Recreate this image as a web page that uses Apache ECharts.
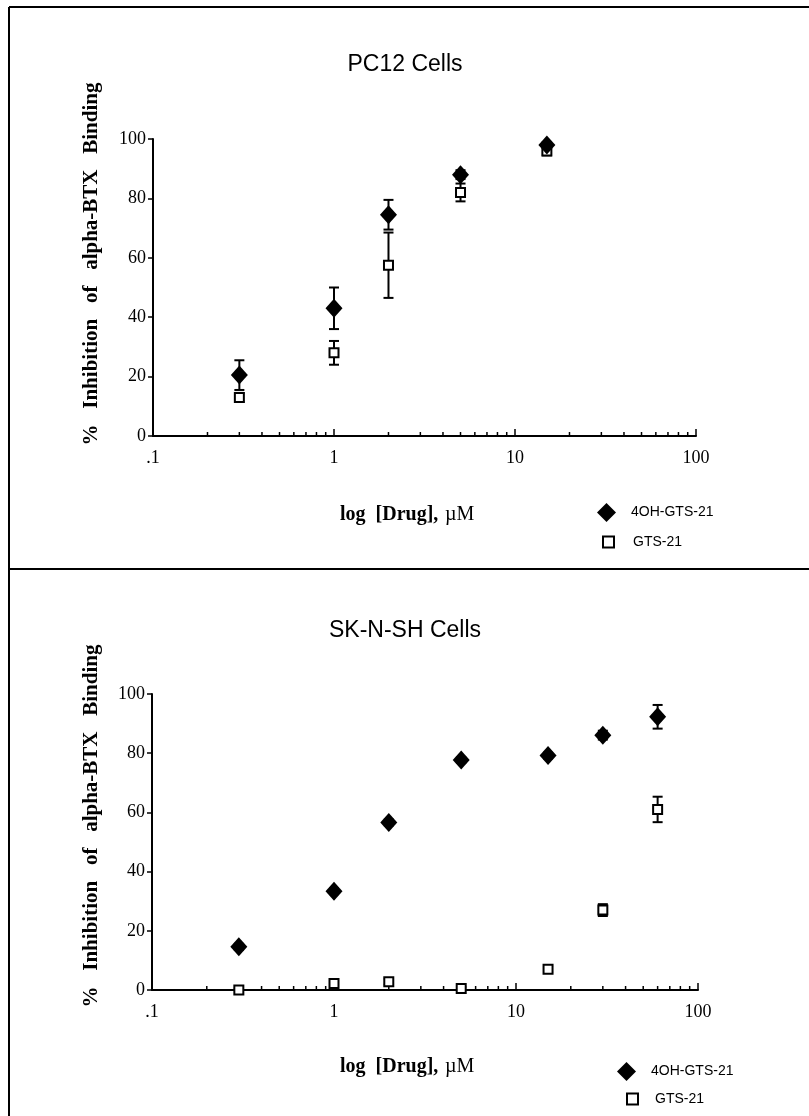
<!DOCTYPE html>
<html>
<head>
<meta charset="utf-8">
<script src="https://cdn.jsdelivr.net/npm/echarts@6/dist/echarts.min.js"></script>
<style>
  html, body { margin: 0; padding: 0; background: #fff; }
  #chart { width: 809px; height: 1116px; }
</style>
</head>
<body>
<div id="chart"></div>
<script>
// PC12 cells - dose (uM), % inhibition, error
var pcDose = [0.3, 1, 2, 5, 15];
var pcOh = [20.5, 43, 74.5, 88, 98];
var pcOhErr = [5, 7, 5, 1.5, 1];
var pcGts = [13, 28, 57.5, 82, 96];
var pcGtsErr = [1.5, 4, 11, 3, 1.5];

// SK-N-SH cells
var skDose = [0.3, 1, 2, 5, 15, 30, 60];
var skOh = [14.6, 33.4, 56.6, 77.7, 79.2, 86.1, 92.3];
var skOhErr = [1, 1, 1, 1, 1, 1.5, 4];
var skGts = [0, 2.2, 2.8, 0.5, 7, 27, 61];
var skGtsErr = [0.5, 1, 1, 0.5, 1, 2, 4.3];

// minor log ticks on the x axis
var minorTicks = [0.2, 0.3, 0.4, 0.5, 0.6, 0.7, 0.8, 0.9,
                  2, 3, 4, 5, 6, 7, 8, 9,
                  20, 30, 40, 50, 60, 70, 80, 90];

var SERIF = '"Liberation Serif", "DejaVu Serif", serif';
var SANS = '"Liberation Sans", Arial, sans-serif';

var chart = echarts.init(document.getElementById('chart'));

function pts(xs, ys) {
  return xs.map(function (x, i) { return [x, ys[i]]; });
}
function errs(xs, ys, es) {
  return xs.map(function (x, i) { return [x, Math.max(0, ys[i] - es[i]), ys[i] + es[i]]; });
}

// vertical error bar with caps
function errorBar(params, api) {
  var x = api.value(0);
  var top = api.coord([x, api.value(2)]);
  var bot = api.coord([x, api.value(1)]);
  var w = 5;
  var st = { stroke: '#000', lineWidth: 2 };
  return {
    type: 'group',
    children: [
      { type: 'line', shape: { x1: top[0], y1: top[1], x2: bot[0], y2: bot[1] }, style: st },
      { type: 'line', shape: { x1: top[0] - w, y1: top[1], x2: top[0] + w, y2: top[1] }, style: st },
      { type: 'line', shape: { x1: bot[0] - w, y1: bot[1], x2: bot[0] + w, y2: bot[1] }, style: st }
    ]
  };
}

function minorTick(params, api) {
  var p = api.coord([api.value(0), 0]);
  return {
    type: 'line',
    shape: { x1: p[0], y1: p[1], x2: p[0], y2: p[1] - 4 },
    style: { stroke: '#000', lineWidth: 1.5 }
  };
}

function xAxisOpt(idx) {
  return {
    type: 'log', logBase: 10, gridIndex: idx, min: 0.1, max: 100,
    axisLine: { lineStyle: { color: '#000', width: 2 } },
    axisTick: { inside: true, length: 7, lineStyle: { color: '#000', width: 1.5 } },
    splitLine: { show: false },
    axisLabel: {
      margin: 13, color: '#000', fontSize: 18, fontFamily: SERIF,
      formatter: function (v) {
        var e = Math.round(Math.log10(v));
        return e < 0 ? '.1' : String(Math.pow(10, e));
      }
    }
  };
}
function yAxisOpt(idx) {
  return {
    type: 'value', gridIndex: idx, min: 0, max: 100, interval: 20,
    axisLine: { show: true, lineStyle: { color: '#000', width: 2 } },
    axisTick: { show: true, length: 5, lineStyle: { color: '#000', width: 1.5 } },
    splitLine: { show: false },
    axisLabel: { margin: 7, color: '#000', fontSize: 18, fontFamily: SERIF }
  };
}

function seriesFor(idx, dose, oh, ohErr, gts, gtsErr) {
  return [
    { type: 'custom', xAxisIndex: idx, yAxisIndex: idx, renderItem: minorTick,
      data: minorTicks.map(function (t) { return [t]; }), silent: true, z: 1 },
    { type: 'custom', xAxisIndex: idx, yAxisIndex: idx, renderItem: errorBar,
      data: errs(dose, oh, ohErr), silent: true, z: 2 },
    { type: 'custom', xAxisIndex: idx, yAxisIndex: idx, renderItem: errorBar,
      data: errs(dose, gts, gtsErr), silent: true, z: 2 },
    { name: 'GTS-21', type: 'scatter', xAxisIndex: idx, yAxisIndex: idx,
      symbol: 'rect', symbolSize: 9,
      itemStyle: { color: '#fff', borderColor: '#000', borderWidth: 2, opacity: 1 },
      data: pts(dose, gts), z: 3 },
    { name: '4OH-GTS-21', type: 'scatter', xAxisIndex: idx, yAxisIndex: idx,
      symbol: 'diamond', symbolSize: [17, 19],
      itemStyle: { color: '#000', opacity: 1 },
      data: pts(dose, oh), z: 4 }
  ];
}

function legendOpt(name, icon, left, top, size, pad, style) {
  return {
    left: left, top: top, orient: 'vertical',
    itemWidth: size, itemHeight: size, selectedMode: false,
    textStyle: { fontSize: 14, fontFamily: SANS, color: '#000', padding: [0, 0, 0, pad] },
    data: [{ name: name, icon: icon, itemStyle: style }]
  };
}

var diamondStyle = { color: '#000', opacity: 1 };
var squareStyle = { color: '#fff', borderColor: '#000', borderWidth: 2, opacity: 1 };

var yLabel = '%   Inhibition   of   alpha-BTX   Binding';
var labelFont = 'bold 21px ' + SERIF;

function axisName(y) {
  return {
    type: 'text', x: 340, y: y,
    style: {
      text: '{b|log  [Drug],}  {n|\u00b5M}',
      rich: {
        b: { fontFamily: SERIF, fontSize: 20, fontWeight: 'bold', fill: '#000' },
        n: { fontFamily: SERIF, fontSize: 20, fill: '#000' }
      },
      textAlign: 'left', textVerticalAlign: 'middle',
      align: 'left', verticalAlign: 'middle'
    }
  };
}
function yName(y) {
  return {
    type: 'text', x: 92, y: y, rotation: Math.PI / 2,
    style: {
      text: yLabel, font: labelFont, fill: '#000',
      textAlign: 'center', textVerticalAlign: 'middle',
      align: 'center', verticalAlign: 'middle'
    }
  };
}

var option = {
  backgroundColor: '#fff',
  animation: false,
  title: [
    { text: 'PC12 Cells', left: 400, textAlign: 'center', top: 48,
      textStyle: { fontFamily: SANS, fontSize: 23, fontWeight: 'normal', color: '#000' } },
    { text: 'SK-N-SH Cells', left: 400, textAlign: 'center', top: 614,
      textStyle: { fontFamily: SANS, fontSize: 23, fontWeight: 'normal', color: '#000' } }
  ],
  grid: [
    { left: 153, top: 139, width: 543, height: 297 },
    { left: 152, top: 694, width: 546, height: 296 }
  ],
  xAxis: [xAxisOpt(0), xAxisOpt(1)],
  yAxis: [yAxisOpt(0), yAxisOpt(1)],
  legend: [
    legendOpt('4OH-GTS-21', 'diamond', 592, 498, 19, 10, diamondStyle),
    legendOpt('GTS-21', 'rect', 597, 530, 11, 14, squareStyle),
    legendOpt('4OH-GTS-21', 'diamond', 612, 1057, 19, 10, diamondStyle),
    legendOpt('GTS-21', 'rect', 621, 1087, 11, 12, squareStyle)
  ],
  graphic: [
    { type: 'line', shape: { x1: 9, y1: 7, x2: 9, y2: 1116 }, style: { stroke: '#000', lineWidth: 2 } },
    { type: 'line', shape: { x1: 9, y1: 7, x2: 809, y2: 7 }, style: { stroke: '#000', lineWidth: 2 } },
    { type: 'line', shape: { x1: 9, y1: 569, x2: 809, y2: 569 }, style: { stroke: '#000', lineWidth: 2 } },
    yName(264),
    yName(826),
    axisName(515),
    axisName(1067)
  ],
  series: [].concat(
    seriesFor(0, pcDose, pcOh, pcOhErr, pcGts, pcGtsErr),
    seriesFor(1, skDose, skOh, skOhErr, skGts, skGtsErr)
  )
};

chart.setOption(option);
</script>
</body>
</html>
